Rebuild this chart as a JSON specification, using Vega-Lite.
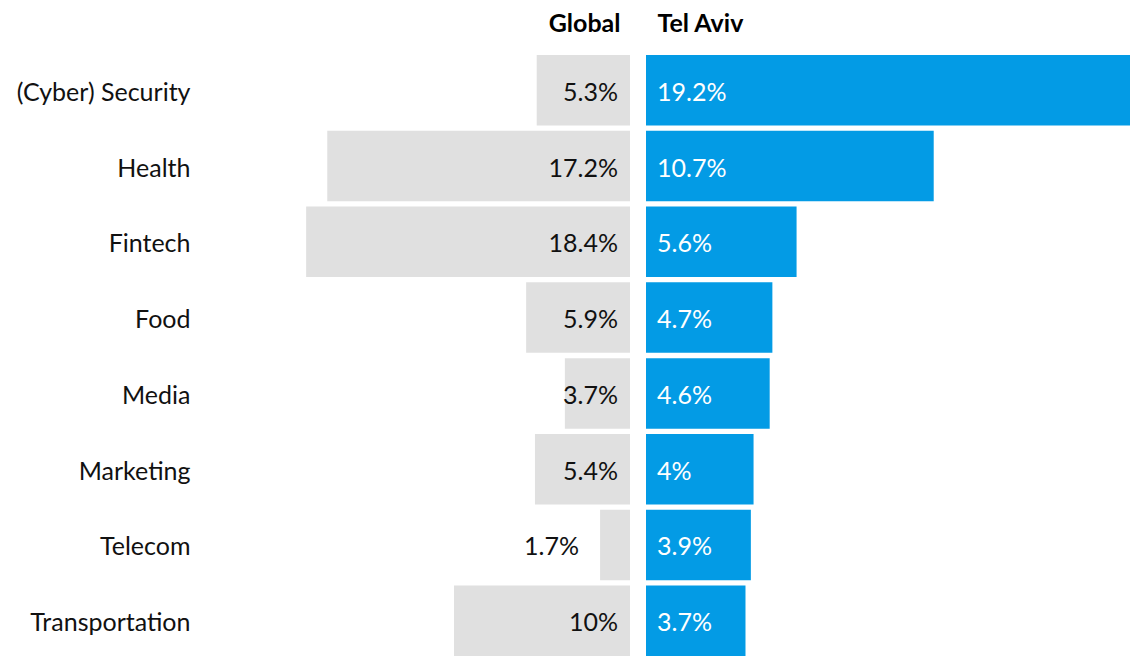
{
  "$schema": "https://vega.github.io/schema/vega-lite/v6.json",
  "background": "white",
  "padding": {"left": 0, "top": 11, "right": 0, "bottom": 0},
  "datasets": {
    "sectors": [
      {"sector": "(Cyber) Security", "global": 5.3, "telaviv": 19.2},
      {"sector": "Health", "global": 17.2, "telaviv": 10.7},
      {"sector": "Fintech", "global": 18.4, "telaviv": 5.6},
      {"sector": "Food", "global": 5.9, "telaviv": 4.7},
      {"sector": "Media", "global": 3.7, "telaviv": 4.6},
      {"sector": "Marketing", "global": 5.4, "telaviv": 4.0},
      {"sector": "Telecom", "global": 1.7, "telaviv": 3.9},
      {"sector": "Transportation", "global": 10, "telaviv": 3.7}
    ]
  },
  "data": {"name": "sectors"},
  "transform": [
    {"calculate": "format(datum.global, '.1~f') + '%'", "as": "globalLabel"},
    {"calculate": "format(datum.telaviv, '.1~f') + '%'", "as": "telavivLabel"}
  ],
  "spacing": 16,
  "config": {
    "view": {"stroke": null},
    "font": "Lato",
    "text": {"font": "Lato", "fontSize": 25},
    "axis": {"grid": false, "domain": false, "ticks": false}
  },
  "hconcat": [
    {
      "width": 430,
      "height": 601,
      "encoding": {
        "y": {
          "field": "sector",
          "type": "nominal",
          "sort": null,
          "scale": {"paddingInner": 0.07, "paddingOuter": 0},
          "axis": {
            "title": null,
            "orient": "left",
            "labelFont": "Lato",
            "labelFontSize": 25,
            "labelColor": "#111111",
            "labelPadding": 10,
            "labelBaseline": "alphabetic",
            "labelOffset": 10.5,
            "labelLimit": 0,
            "minExtent": 200,
            "maxExtent": 200
          }
        }
      },
      "layer": [
        {
          "mark": {"type": "bar", "color": "#e0e0e0"},
          "encoding": {
            "x": {
              "field": "global",
              "type": "quantitative",
              "scale": {"domain": [0, 24.43], "reverse": true, "nice": false, "zero": true},
              "axis": {
                "orient": "top",
                "labels": false,
                "minExtent": 0,
                "maxExtent": 0,
                "title": "Global",
                "titleFont": "Lato",
                "titleFontSize": 25,
                "titleFontWeight": "bold",
                "titleColor": "#000000",
                "titleX": 420,
                "titleY": -24,
                "titleAlign": "right",
                "titleAnchor": null,
                "titleBaseline": "alphabetic"
              }
            },
            "x2": {"datum": 0}
          }
        },
        {
          "transform": [{"filter": "datum.global >= 3"}],
          "mark": {"type": "text", "align": "right", "baseline": "alphabetic", "dx": -12, "dy": 10.5, "color": "#111111"},
          "encoding": {
            "x": {"datum": 0, "type": "quantitative"},
            "text": {"field": "globalLabel"}
          }
        },
        {
          "transform": [{"filter": "datum.global < 3"}],
          "mark": {"type": "text", "align": "right", "baseline": "alphabetic", "dx": -21, "dy": 10.5, "color": "#111111"},
          "encoding": {
            "x": {"field": "global", "type": "quantitative"},
            "text": {"field": "globalLabel"}
          }
        }
      ]
    },
    {
      "width": 484,
      "height": 601,
      "encoding": {
        "y": {
          "field": "sector",
          "type": "nominal",
          "sort": null,
          "scale": {"paddingInner": 0.07, "paddingOuter": 0},
          "axis": null
        }
      },
      "layer": [
        {
          "mark": {"type": "bar", "color": "#039be5"},
          "encoding": {
            "x": {
              "field": "telaviv",
              "type": "quantitative",
              "scale": {"domain": [0, 18], "nice": false, "zero": true, "clamp": true},
              "axis": {
                "orient": "top",
                "labels": false,
                "minExtent": 0,
                "maxExtent": 0,
                "title": "Tel Aviv",
                "titleFont": "Lato",
                "titleFontSize": 25,
                "titleFontWeight": "bold",
                "titleColor": "#000000",
                "titleX": 11,
                "titleY": -24,
                "titleAlign": "left",
                "titleAnchor": null,
                "titleBaseline": "alphabetic"
              }
            },
            "x2": {"datum": 0}
          }
        },
        {
          "mark": {"type": "text", "align": "left", "baseline": "alphabetic", "dx": 11, "dy": 10.5, "color": "#ffffff"},
          "encoding": {
            "x": {"datum": 0, "type": "quantitative"},
            "text": {"field": "telavivLabel"}
          }
        }
      ]
    }
  ]
}
